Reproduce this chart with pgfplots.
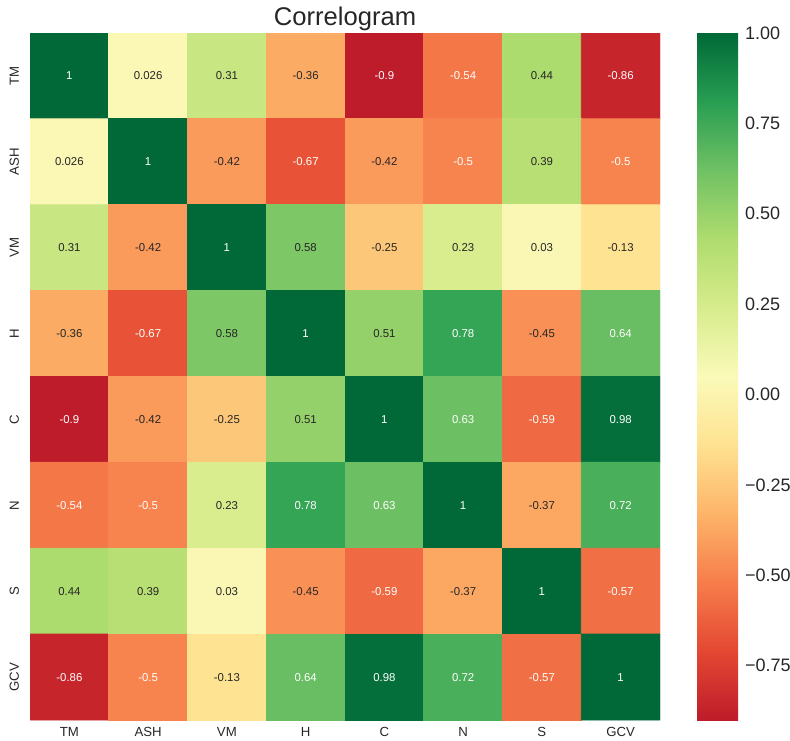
\documentclass[border=0pt]{standalone}
\usepackage{fontspec}
\setmainfont{Liberation Sans}
\usepackage{pgfplots}
\usepackage{pgfplotstable}
\pgfplotsset{compat=1.18}

\definecolor{txt}{HTML}{262626}

% x = column, y = row, v = correlation, t = printed label, w = white text
\pgfplotstableread{
x y v t w
0 0 1 1 1
1 0 0.026 0.026 0
2 0 0.31 0.31 0
3 0 -0.36 -0.36 0
4 0 -0.9 -0.9 1
5 0 -0.54 -0.54 1
6 0 0.44 0.44 0
7 0 -0.86 -0.86 1
0 1 0.026 0.026 0
1 1 1 1 1
2 1 -0.42 -0.42 0
3 1 -0.67 -0.67 1
4 1 -0.42 -0.42 0
5 1 -0.5 -0.5 1
6 1 0.39 0.39 0
7 1 -0.5 -0.5 1
0 2 0.31 0.31 0
1 2 -0.42 -0.42 0
2 2 1 1 1
3 2 0.58 0.58 0
4 2 -0.25 -0.25 0
5 2 0.23 0.23 0
6 2 0.03 0.03 0
7 2 -0.13 -0.13 0
0 3 -0.36 -0.36 0
1 3 -0.67 -0.67 1
2 3 0.58 0.58 0
3 3 1 1 1
4 3 0.51 0.51 0
5 3 0.78 0.78 1
6 3 -0.45 -0.45 0
7 3 0.64 0.64 1
0 4 -0.9 -0.9 1
1 4 -0.42 -0.42 0
2 4 -0.25 -0.25 0
3 4 0.51 0.51 0
4 4 1 1 1
5 4 0.63 0.63 1
6 4 -0.59 -0.59 1
7 4 0.98 0.98 1
0 5 -0.54 -0.54 1
1 5 -0.5 -0.5 1
2 5 0.23 0.23 0
3 5 0.78 0.78 1
4 5 0.63 0.63 1
5 5 1 1 1
6 5 -0.37 -0.37 0
7 5 0.72 0.72 1
0 6 0.44 0.44 0
1 6 0.39 0.39 0
2 6 0.03 0.03 0
3 6 -0.45 -0.45 0
4 6 -0.59 -0.59 1
5 6 -0.37 -0.37 0
6 6 1 1 1
7 6 -0.57 -0.57 1
0 7 -0.86 -0.86 1
1 7 -0.5 -0.5 1
2 7 -0.13 -0.13 0
3 7 0.64 0.64 1
4 7 0.98 0.98 1
5 7 0.72 0.72 1
6 7 -0.57 -0.57 1
7 7 1 1 1
}\corr

\begin{document}
\begin{tikzpicture}
\begin{axis}[
    name=main,
    scale only axis,
    width=315pt, height=343.5pt,
    xmin=-0.5, xmax=7.5, ymin=-0.5, ymax=7.5,
    y dir=reverse,
    axis line style={draw=none},
    tick style={draw=none},
    xtick={0,...,7}, ytick={0,...,7},
    xticklabels={TM,ASH,VM,H,C,N,S,GCV},
    yticklabels={TM,ASH,VM,H,C,N,S,GCV},
    tick label style={font=\fontsize{6.6}{7}\selectfont, text=txt},
    yticklabel style={xshift=-2pt, rotate=90, anchor=south},
    title={Correlogram},
    title style={font=\fontsize{12.8}{14}\selectfont, text=txt, yshift=-8.6pt},
    colormap={rdylgn}{rgb255=(190,28,42) rgb255=(228,72,50) rgb255=(246,125,75)
        rgb255=(253,180,105) rgb255=(254,226,145) rgb255=(250,250,185)
        rgb255=(215,236,140) rgb255=(175,220,110) rgb255=(112,193,100)
        rgb255=(40,158,82) rgb255=(0,105,55)},
    point meta min=-0.9, point meta max=1,
    colorbar,
    colorbar/width=20.5pt,
    colorbar style={
        at={(parent axis.north east)}, anchor=north west, xshift=10pt,
        axis line style={draw=none},
        tick style={draw=none},
        major tick length=0pt,
        ytick={-0.75,-0.5,-0.25,0,0.25,0.5,0.75,1},
        yticklabels={−0.75,−0.50,−0.25,0.00,0.25,0.50,0.75,1.00},
        yticklabel style={font=\fontsize{9}{10}\selectfont, text=txt},
    },
    annot/.style={draw=none, mark=none,
        point meta=explicit symbolic, nodes near coords,
        every node near coord/.append style={anchor=center,
            font=\fontsize{5.7}{6}\selectfont, text=#1}},
]
\addplot[matrix plot*, mesh/cols=8, point meta=explicit]
    table[x=x, y=y, meta=v] {\corr};
\addplot[annot=white, restrict expr to domain={\thisrow{w}}{0.5:1.5}]
    table[x=x, y=y, meta=t] {\corr};
\addplot[annot=txt, restrict expr to domain={\thisrow{w}}{-0.5:0.5}]
    table[x=x, y=y, meta=t] {\corr};
\end{axis}
\pgfresetboundingbox
\path[use as bounding box] ([shift={(-15pt,-10pt)}]main.south west)
    rectangle ([shift={(65pt,16.5pt)}]main.north east);
\end{tikzpicture}
\end{document}
